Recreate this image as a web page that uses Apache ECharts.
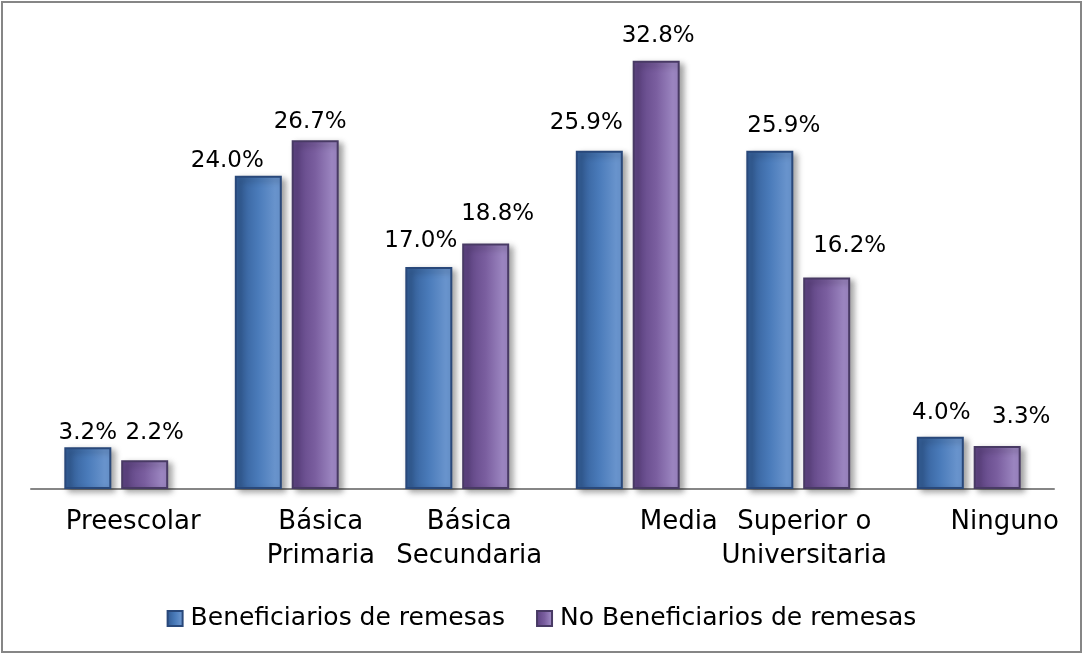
<!DOCTYPE html>
<html>
<head>
<meta charset="utf-8">
<script src="https://cdn.jsdelivr.net/npm/echarts@6/dist/echarts.min.js"></script>
<style>
html,body{margin:0;padding:0;background:#fff;}
#chart{width:1083px;height:654px;}
</style>
</head>
<body>
<div id="chart"></div>
<script>
const categories = ['Preescolar', 'Básica\nPrimaria', 'Básica\nSecundaria', 'Media', 'Superior o\nUniversitaria', 'Ninguno'];
const seriesNames = ['Beneficiarios de remesas', 'No Beneficiarios de remesas'];
const beneficiarios = [3.2, 24.0, 17.0, 25.9, 25.9, 4.0];
const noBeneficiarios = [2.2, 26.7, 18.8, 32.8, 16.2, 3.3];

// label placement tweaks (style only)
const catLabelShift = [17, 34, 12, 51, 6, 36];
const shiftBenef = [[0, 2], [-31, 2], [-8, -9], [-13, -11], [14, -8], [1, -7]];
const shiftNoBenef = [[10, -11], [-5, -2], [12, -13], [2, -8], [23, -15], [24, -12]];

const FONT = 'DejaVu Sans';

function grad(c1, c2, c3) {
  return new echarts.graphic.LinearGradient(0, 0, 1, 0, [
    {offset: 0, color: c1},
    {offset: 0.12, color: c1},
    {offset: 0.5, color: c2},
    {offset: 0.85, color: c3},
    {offset: 1, color: c3}
  ]);
}

function makeData(vals, shifts) {
  return vals.map((v, i) => ({value: v, label: {offset: shifts[i]}}));
}

const chart = echarts.init(document.getElementById('chart'));
chart.setOption({
  animation: false,
  backgroundColor: '#ffffff',
  graphic: [{
    type: 'rect',
    shape: {x: 2, y: 2, width: 1079, height: 650},
    style: {fill: 'none', stroke: '#868686', lineWidth: 2},
    silent: true
  }],
  grid: {left: 31, right: 29, top: 32, bottom: 165},
  legend: {
    top: 601,
    left: 'center',
    itemWidth: 15,
    itemHeight: 15,
    itemGap: 31,
    icon: 'rect',
    textStyle: {fontFamily: FONT, fontSize: 25, color: '#000', padding: [0, 0, 0, 3]},
    data: seriesNames
  },
  xAxis: {
    type: 'category',
    data: categories.map((c, i) => ({
      value: c,
      textStyle: {padding: [0, 0, 0, 2 * catLabelShift[i]]}
    })),
    axisLine: {show: true, lineStyle: {color: '#868686', width: 2}},
    axisTick: {show: false},
    axisLabel: {
      interval: 0,
      margin: 16,
      fontFamily: FONT,
      fontSize: 26,
      lineHeight: 34,
      color: '#000'
    }
  },
  yAxis: {
    type: 'value',
    min: 0,
    max: 35,
    show: false,
    splitLine: {show: false}
  },
  series: [
    {
      name: seriesNames[0],
      type: 'bar',
      barWidth: 47,
      barGap: '21%',
      data: makeData(beneficiarios, shiftBenef),
      itemStyle: {
        color: grad('#35609a', '#4a7bba', '#6893cc'),
        borderColor: '#29487a',
        borderWidth: 2,
        shadowColor: 'rgba(0,0,0,0.35)',
        shadowBlur: 6,
        shadowOffsetX: 4,
        shadowOffsetY: 3
      },
      label: {
        show: true,
        position: 'top',
        distance: 5,
        fontFamily: FONT,
        fontSize: 23,
        color: '#000',
        formatter: p => p.value.toFixed(1) + '%'
      }
    },
    {
      name: seriesNames[1],
      type: 'bar',
      barWidth: 47,
      data: makeData(noBeneficiarios, shiftNoBenef),
      itemStyle: {
        color: grad('#614686', '#7a5e9f', '#9a84bf'),
        borderColor: '#483a64',
        borderWidth: 2,
        shadowColor: 'rgba(0,0,0,0.35)',
        shadowBlur: 6,
        shadowOffsetX: 4,
        shadowOffsetY: 3
      },
      label: {
        show: true,
        position: 'top',
        distance: 5,
        fontFamily: FONT,
        fontSize: 23,
        color: '#000',
        formatter: p => p.value.toFixed(1) + '%'
      }
    }
  ]
});
</script>
</body>
</html>
